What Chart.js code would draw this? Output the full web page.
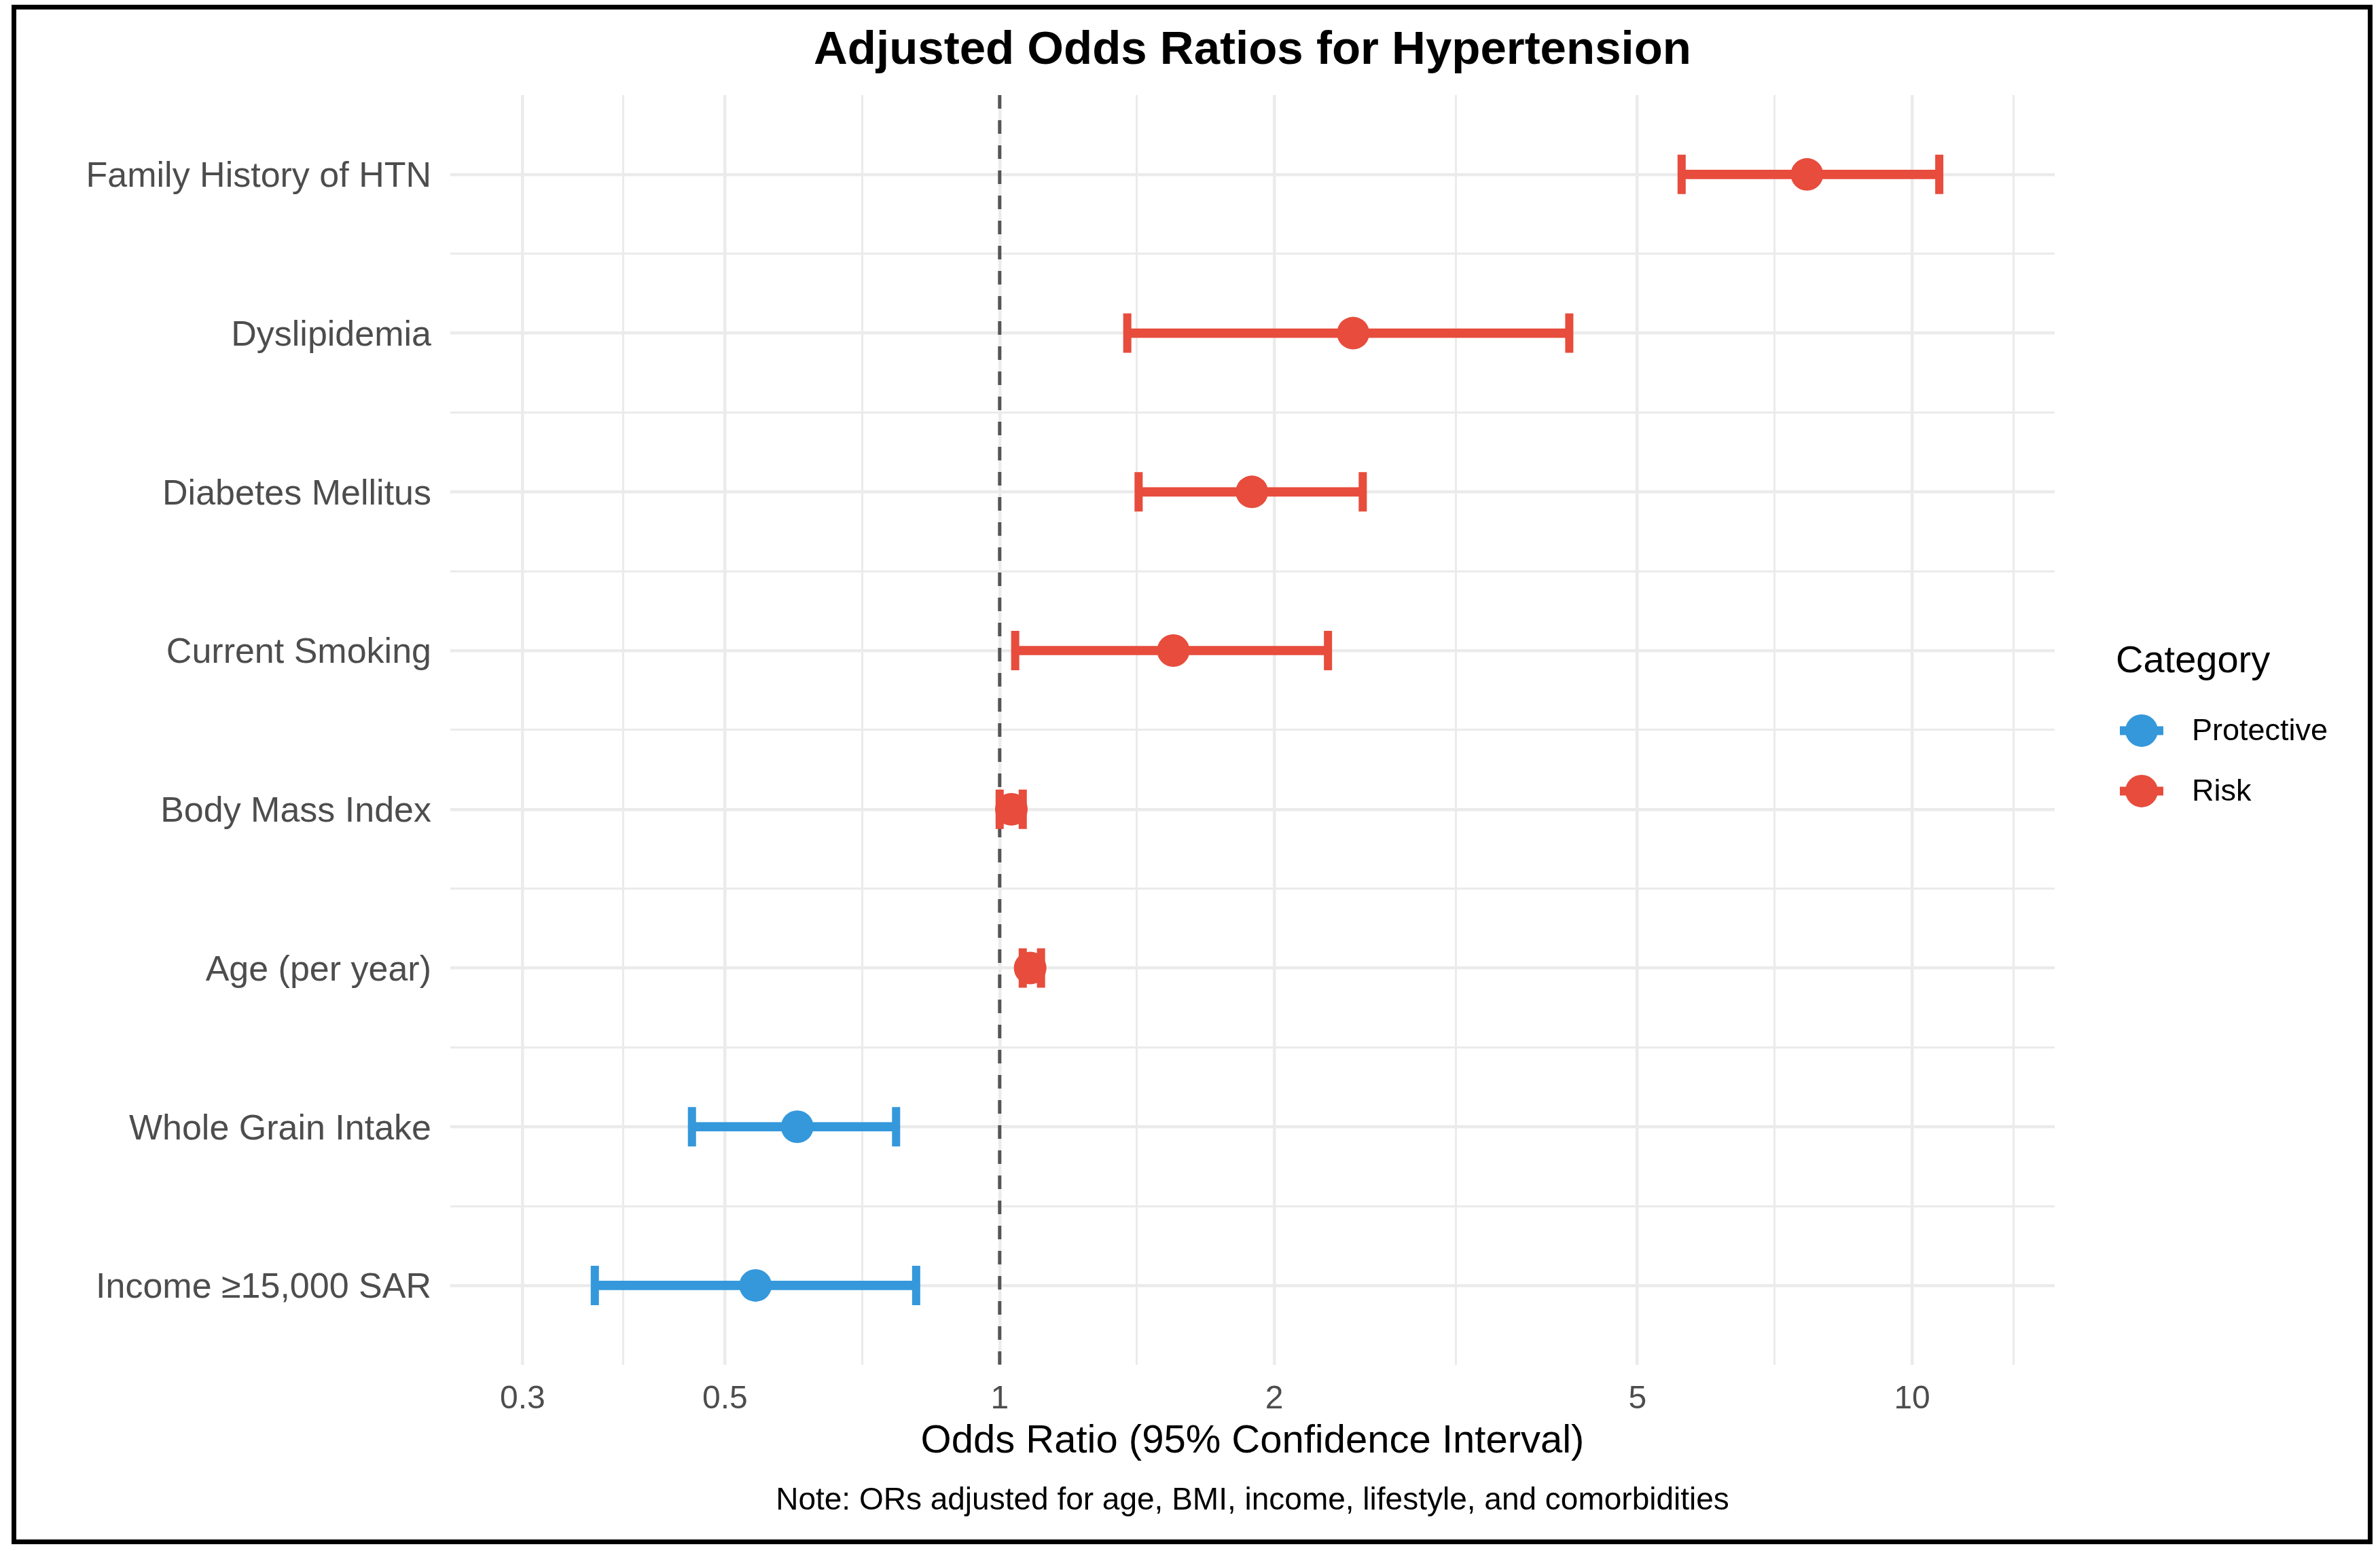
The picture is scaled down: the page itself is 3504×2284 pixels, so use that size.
<!DOCTYPE html>
<html>
<head>
<meta charset="utf-8">
<title>Adjusted Odds Ratios for Hypertension</title>
<script src="https://cdn.jsdelivr.net/npm/chart.js@4.4.1/dist/chart.umd.min.js"></script>
<style>
  html, body { margin: 0; padding: 0; background: #fff; }
  #wrap { position: relative; width: 3504px; height: 2284px; overflow: hidden; }
  #forest { position: absolute; left: 0; top: 0; width: 3504px; height: 2284px; }
  #frame {
    position: absolute; left: 17px; top: 7px; width: 3476px; height: 2267px;
    border: 7px solid #000; box-sizing: border-box; pointer-events: none;
  }
</style>
</head>
<body>
<div id="wrap">
  <canvas id="forest" width="3504" height="2284"></canvas>
  <div id="frame"></div>
</div>
<script>
const categories = [
  'Family History of HTN',
  'Dyslipidemia',
  'Diabetes Mellitus',
  'Current Smoking',
  'Body Mass Index',
  'Age (per year)',
  'Whole Grain Intake',
  'Income ≥15,000 SAR'
];
const groups = ['Risk', 'Risk', 'Risk', 'Risk', 'Risk', 'Risk', 'Protective', 'Protective'];
const oddsRatios = [7.67, 2.44, 1.89, 1.55, 1.03, 1.08, 0.60, 0.54];
const ciLower = [5.59, 1.38, 1.42, 1.04, 1.00, 1.06, 0.46, 0.36];
const ciUpper = [10.71, 4.21, 2.50, 2.29, 1.06, 1.11, 0.77, 0.81];

const majorTicks = [0.3, 0.5, 1, 2, 5, 10];
const minorTicks = [0.387, 0.707, 1.414, 3.162, 7.071, 12.91];
const referenceOR = 1;

const legendOrder = ['Protective', 'Risk'];
const groupColors = { Protective: '#3498DB', Risk: '#E74C3C' };

const FONT = "'Liberation Sans', Arial, Helvetica, sans-serif";
Chart.defaults.font.family = FONT;

const rowTicks = categories.flatMap((_, i) => (i === 0 ? [i] : [i - 0.5, i]));

function rowsFor(group) {
  return categories.map((_, i) => i).filter((i) => groups[i] === group);
}

function groupDatasets(group) {
  const rows = rowsFor(group);
  const color = groupColors[group];
  const cap = (values) => ({
    type: 'scatter',
    label: group,
    data: rows.map((i) => ({ x: values[i], y: i })),
    pointStyle: 'line',
    pointRotation: 90,
    pointRadius: 29,
    pointBorderWidth: 12,
    pointBorderColor: color,
    borderColor: color,
    order: 2
  });

  return [
    {
      type: 'bar',
      label: group,
      indexAxis: 'y',
      data: rows.map((i) => ({ y: i, x: [ciLower[i], ciUpper[i]] })),
      backgroundColor: color,
      borderWidth: 0,
      barThickness: 13,
      grouped: false,
      order: 3
    },
    cap(ciLower),
    cap(ciUpper),
    {
      type: 'scatter',
      label: group,
      data: rows.map((i) => ({ x: oddsRatios[i], y: i })),
      pointStyle: 'circle',
      pointRadius: 24,
      pointBackgroundColor: color,
      pointBorderWidth: 0,
      order: 1
    }
  ];
}

const referenceLine = {
  type: 'scatter',
  label: 'OR = 1',
  data: [
    { x: referenceOR, y: -0.5 },
    { x: referenceOR, y: categories.length - 0.5 }
  ],
  showLine: true,
  borderColor: '#555555',
  borderWidth: 5,
  borderDash: [20, 17],
  pointRadius: 0,
  order: 5
};

const legendPlugin = {
  id: 'categoryLegend',
  afterDraw(chart) {
    const { ctx, chartArea } = chart;
    const left = chartArea.right + 90;
    const midY = (chartArea.top + chartArea.bottom) / 2;

    ctx.save();
    ctx.textAlign = 'left';
    ctx.textBaseline = 'middle';
    ctx.fillStyle = '#000';
    ctx.font = `56px ${FONT}`;
    ctx.fillText('Category', left, midY - 100);

    ctx.font = `45px ${FONT}`;
    legendOrder.forEach((group, k) => {
      const y = midY + 1 + k * 89;
      const cx = left + 38;
      const color = groupColors[group];

      ctx.strokeStyle = color;
      ctx.lineWidth = 13;
      ctx.beginPath();
      ctx.moveTo(cx - 32, y);
      ctx.lineTo(cx + 32, y);
      ctx.stroke();

      ctx.fillStyle = color;
      ctx.beginPath();
      ctx.arc(cx, y, 24, 0, Math.PI * 2);
      ctx.fill();

      ctx.fillStyle = '#000';
      ctx.fillText(group, left + 112, y + 2);
    });
    ctx.restore();
  }
};

const chart = new Chart(document.getElementById('forest'), {
  type: 'scatter',
  data: {
    datasets: [...groupDatasets('Risk'), ...groupDatasets('Protective'), referenceLine]
  },
  options: {
    responsive: false,
    devicePixelRatio: 1,
    animation: false,
    events: [],
    layout: {
      padding: { left: 0, right: 479, top: 0, bottom: 46 }
    },
    plugins: {
      legend: { display: false },
      tooltip: { enabled: false },
      title: {
        display: true,
        text: 'Adjusted Odds Ratios for Hypertension',
        fullSize: false,
        color: '#000',
        font: { size: 69, weight: 'bold' },
        padding: { top: 34, bottom: 23.2 }
      },
      subtitle: {
        display: true,
        position: 'bottom',
        text: 'Note: ORs adjusted for age, BMI, income, lifestyle, and comorbidities',
        fullSize: false,
        color: '#000',
        font: { size: 46 },
        padding: { top: 25, bottom: 0 }
      }
    },
    scales: {
      x: {
        type: 'logarithmic',
        position: 'bottom',
        min: 0.25,
        max: 14.33,
        bounds: 'data',
        offset: false,
        afterBuildTicks: (scale) => {
          scale.ticks = [...majorTicks, ...minorTicks]
            .sort((a, b) => a - b)
            .map((v) => ({ value: v }));
        },
        afterFit: (scale) => {
          scale.height = 148;
        },
        ticks: {
          autoSkip: false,
          maxRotation: 0,
          padding: 22,
          color: '#4D4D4D',
          font: { size: 48 },
          callback: (value) => (majorTicks.includes(value) ? String(value) : '')
        },
        grid: {
          offset: false,
          drawTicks: false,
          color: '#EBEBEB',
          lineWidth: (c) => (c.tick && majorTicks.includes(c.tick.value) ? 4.5 : 3)
        },
        border: { display: false },
        title: {
          display: true,
          text: 'Odds Ratio (95% Confidence Interval)',
          color: '#000',
          font: { size: 58 },
          padding: { top: 0, bottom: 0 }
        }
      },
      y: {
        type: 'linear',
        reverse: true,
        min: -0.5,
        max: categories.length - 0.5,
        bounds: 'data',
        offset: false,
        afterBuildTicks: (scale) => {
          scale.ticks = rowTicks.map((v) => ({ value: v }));
        },
        afterFit: (scale) => {
          scale.width = 663;
        },
        ticks: {
          autoSkip: false,
          padding: 28,
          labelOffset: 4,
          color: '#4D4D4D',
          font: { size: 52 },
          callback: (value) => (Number.isInteger(value) ? categories[value] : '')
        },
        grid: {
          offset: false,
          drawTicks: false,
          color: '#EBEBEB',
          lineWidth: (c) => (c.tick && Number.isInteger(c.tick.value) ? 4.5 : 3)
        },
        border: { display: false }
      }
    }
  },
  plugins: [legendPlugin]
});
</script>
</body>
</html>
